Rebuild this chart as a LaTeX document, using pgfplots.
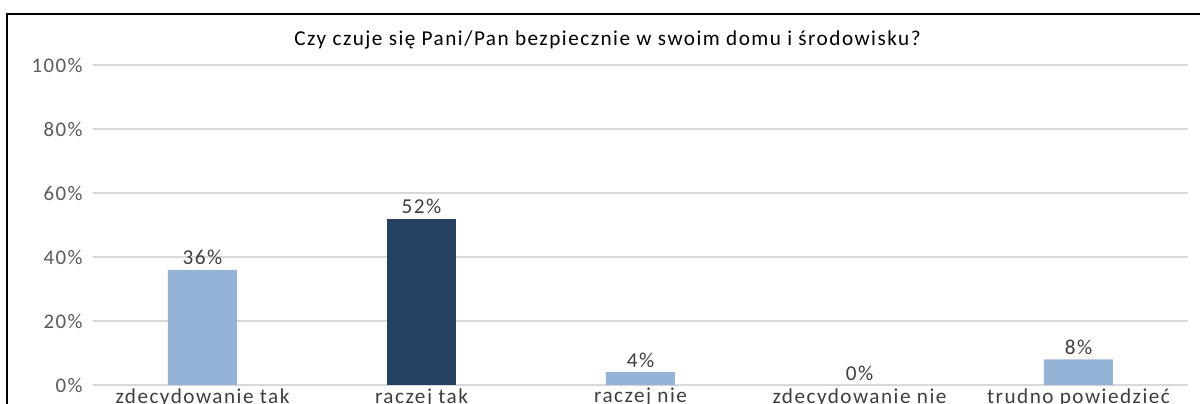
\documentclass[border=0pt]{standalone}
\usepackage{fontspec}
\setmainfont{Carlito}[LetterSpace=7]
\usepackage{pgfplots}
\pgfplotsset{compat=1.18}
\definecolor{lightbar}{RGB}{149,179,215}
\definecolor{darkbar}{RGB}{37,64,97}
\definecolor{ticktext}{RGB}{89,89,89}
\definecolor{gridgray}{RGB}{217,217,217}

\begin{document}
\begin{tikzpicture}[x=1pt,y=1pt]
\useasboundingbox (0,0) rectangle (600,201.5);
\clip (0,0) rectangle (600,201.5);
% chart frame (right and bottom edges fall outside the picture)
\draw[black, line width=1.1pt] (3.5,-2) -- (3.5,194.5) -- (602,194.5);
\node[font=\fontsize{10.6}{12}\selectfont, text=black] at (303.75,181.5)
  {Czy czuje się Pani/Pan bezpiecznie w swoim domu i środowisku?};
\begin{axis}[
  at={(46.5pt,9pt)}, anchor=south west,
  scale only axis, width=547.5pt, height=160pt,
  xmin=-0.5, xmax=4.5, ymin=0, ymax=100,
  axis line style={draw=none},
  major tick length=0pt,
  ymajorgrids, grid style={draw=gridgray, line width=0.8pt},
  ytick={0,20,40,60,80,100},
  yticklabel={\pgfmathprintnumber[assume math mode=true]{\tick}\%},
  yticklabel style={font=\fontsize{10.4}{12}\selectfont, text=ticktext, inner sep=0pt, xshift=-5pt},
  xtick={0,1,2,3,4},
  xticklabels={zdecydowanie tak, raczej tak, raczej nie, zdecydowanie nie, trudno powiedzieć},
  xticklabel style={font=\fontsize{10.6}{12}\selectfont, text=ticktext!70!black, inner sep=0pt, yshift=-1.5pt},
  ybar, bar width=34.5pt, bar shift=0pt,
  nodes near coords={\pgfmathprintnumber[assume math mode=true]{\pgfplotspointmeta}\%},
  nodes near coords style={font=\fontsize{10.6}{12}\selectfont, text=ticktext!70!black, inner sep=0pt, yshift=6pt, anchor=center},
  clip=false,
]
\addplot[fill=lightbar, draw=none] coordinates {(0,36) (2,4) (3,0) (4,8)};
\addplot[fill=darkbar, draw=none] coordinates {(1,52)};
\end{axis}
\end{tikzpicture}
\end{document}
